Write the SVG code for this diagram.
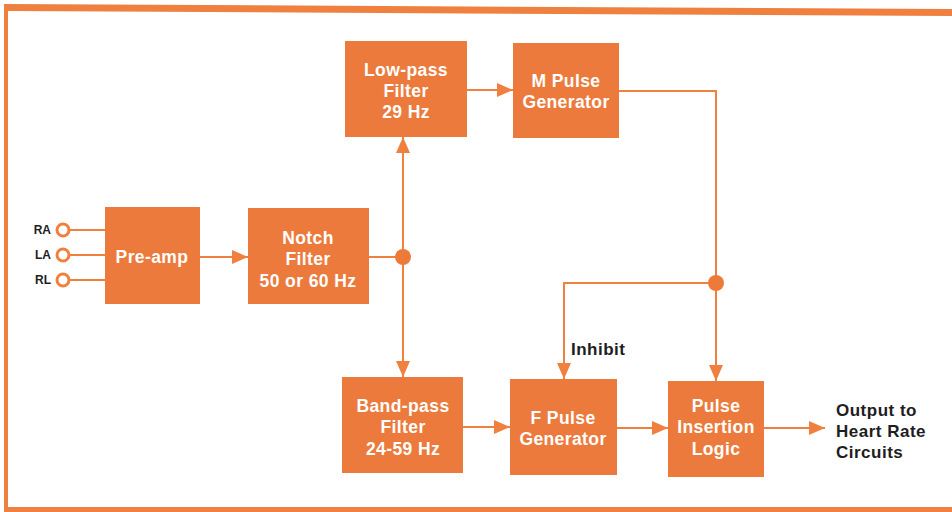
<svg xmlns="http://www.w3.org/2000/svg" width="952" height="512" viewBox="0 0 952 512">
<defs>
<style>
.box{fill:#EC7A3C}
.bt{fill:#FFFFFF;font-family:"Liberation Sans",Arial,sans-serif;font-weight:bold;font-size:17.5px;letter-spacing:0.4px;text-anchor:middle}
.lbl{fill:#1E1E1E;font-family:"Liberation Sans",Arial,sans-serif;font-weight:bold;font-size:17px;letter-spacing:0.5px}
.sm{fill:#1E1E1E;font-family:"Liberation Sans",Arial,sans-serif;font-weight:bold;font-size:12px}
.ln{fill:none;stroke:#F0803F;stroke-width:2}
.arr{stroke:#F0803F;stroke-width:2;fill:none;marker-end:url(#ah)}
.dot{fill:#EE7A3A}
.term{fill:#FFFFFF;stroke:#F0803F;stroke-width:3}
</style>
<marker id="ah" viewBox="0 0 16 14" refX="16" refY="7" markerWidth="16" markerHeight="14" markerUnits="userSpaceOnUse" orient="auto">
<path d="M0,0 L16,7 L0,14 Z" fill="#F0803F"/>
</marker>
</defs>
<rect width="952" height="512" fill="#FFFFFF"/>
<g id="frame">
<path d="M4,4 L952,9 L952,16 L8,11 L8,507 L952,507 L952,512 L4,512 Z" fill="#F0803F"/>
</g>
<g id="connectors">
<line class="ln" x1="69" y1="230" x2="105" y2="230"/>
<line class="ln" x1="69" y1="255" x2="105" y2="255"/>
<line class="ln" x1="69" y1="280" x2="105" y2="280"/>
<line class="arr" x1="200" y1="257" x2="248" y2="257"/>
<line class="ln" x1="369" y1="257" x2="403" y2="257"/>
<line class="arr" x1="403" y1="257" x2="403" y2="137"/>
<line class="arr" x1="403" y1="257" x2="403" y2="377"/>
<line class="arr" x1="467" y1="90" x2="513" y2="90"/>
<polyline class="ln" points="619,91 716,91 716,283"/>
<line class="arr" x1="716" y1="283" x2="716" y2="381"/>
<polyline class="arr" points="716,283 564,283 564,379"/>
<line class="arr" x1="463" y1="427" x2="510" y2="427"/>
<line class="arr" x1="617" y1="428" x2="668" y2="428"/>
<line class="arr" x1="764" y1="428" x2="825" y2="428"/>
<circle class="dot" cx="403" cy="257" r="8"/>
<circle class="dot" cx="716" cy="283" r="8"/>
</g>
<g id="terminals">
<circle class="term" cx="63" cy="230" r="6"/>
<circle class="term" cx="63" cy="255" r="6"/>
<circle class="term" cx="63" cy="280" r="6"/>
<text class="sm" x="51" y="234" text-anchor="end">RA</text>
<text class="sm" x="51" y="259" text-anchor="end">LA</text>
<text class="sm" x="51" y="284" text-anchor="end">RL</text>
</g>
<g id="preamp">
<rect class="box" x="105" y="207" width="95" height="97"/>
<text class="bt" x="152" y="263">Pre-amp</text>
</g>
<g id="notch">
<rect class="box" x="248" y="208" width="121" height="96"/>
<text class="bt" x="308" y="244">Notch</text>
<text class="bt" x="308" y="265">Filter</text>
<text class="bt" x="308" y="287">50 or 60 Hz</text>
</g>
<g id="lowpass">
<rect class="box" x="345" y="41" width="122" height="96"/>
<text class="bt" x="406" y="76">Low-pass</text>
<text class="bt" x="406" y="97">Filter</text>
<text class="bt" x="406" y="118">29 Hz</text>
</g>
<g id="mpulse">
<rect class="box" x="513" y="43" width="106" height="95"/>
<text class="bt" x="566" y="87">M Pulse</text>
<text class="bt" x="566" y="108">Generator</text>
</g>
<g id="bandpass">
<rect class="box" x="342" y="377" width="121" height="96"/>
<text class="bt" x="403" y="412">Band-pass</text>
<text class="bt" x="403" y="433">Filter</text>
<text class="bt" x="403" y="455">24-59 Hz</text>
</g>
<g id="fpulse">
<rect class="box" x="510" y="379" width="107" height="96"/>
<text class="bt" x="563" y="424">F Pulse</text>
<text class="bt" x="563" y="445">Generator</text>
</g>
<g id="insertion">
<rect class="box" x="668" y="381" width="96" height="96"/>
<text class="bt" x="716" y="412">Pulse</text>
<text class="bt" x="716" y="433">Insertion</text>
<text class="bt" x="716" y="455">Logic</text>
</g>
<g id="labels">
<text class="lbl" x="571" y="355">Inhibit</text>
<text class="lbl" x="836" y="416">Output to</text>
<text class="lbl" x="836" y="437">Heart Rate</text>
<text class="lbl" x="836" y="458">Circuits</text>
</g>
</svg>
